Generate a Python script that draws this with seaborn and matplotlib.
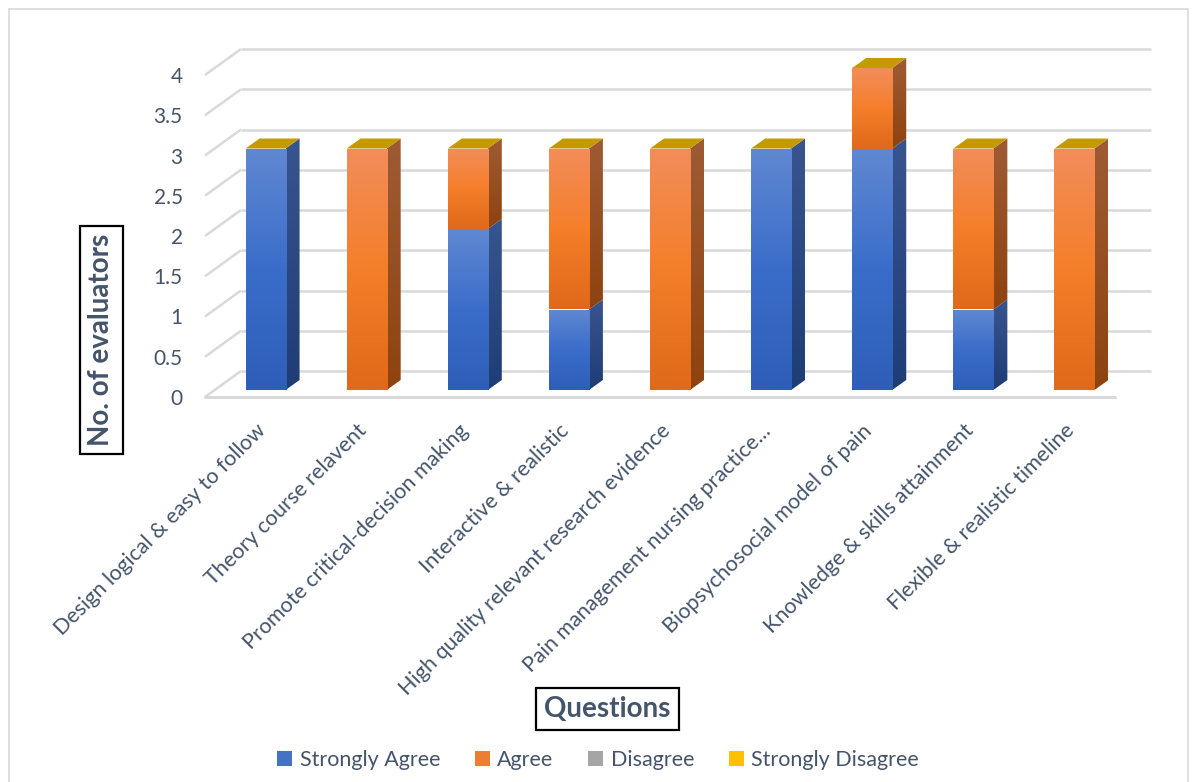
import numpy as np
import matplotlib
matplotlib.use("Agg")
import matplotlib.pyplot as plt
import seaborn as sns
from matplotlib.colors import LinearSegmentedColormap
from matplotlib.patches import Patch, Polygon

# data
questions = [
    "Design logical & easy to follow",
    "Theory course relavent",
    "Promote critical-decision making",
    "Interactive & realistic",
    "High quality relevant research evidence",
    "Pain management nursing practice...",
    "Biopsychosocial model of pain",
    "Knowledge & skills attainment",
    "Flexible & realistic timeline",
]
strongly_agree = [3, 0, 2, 1, 0, 3, 3, 1, 0]
agree = [0, 3, 1, 2, 3, 0, 1, 2, 3]
disagree = [0, 0, 0, 0, 0, 0, 0, 0, 0]
strongly_disagree = [0, 0, 0, 0, 0, 0, 0, 0, 0]
series_names = ["Strongly Agree", "Agree", "Disagree", "Strongly Disagree"]
y_ticks = [0, 0.5, 1, 1.5, 2, 2.5, 3, 3.5, 4]

# colours: legend, front gradient (bottom, mid, top), side gradient (bottom, top)
legend_colors = ["#4472c4", "#ed7d31", "#a5a5a5", "#ffc000"]
front_grad = {
    "Strongly Agree": ["#2e5eb8", "#3a6dca", "#6088d2"],
    "Agree": ["#e0691a", "#f57e2a", "#f28d5a"],
    "Disagree": ["#8a8a8a", "#a5a5a5", "#bdbdbd"],
    "Strongly Disagree": ["#d9a300", "#ffc000", "#ffd050"],
}
side_grad = {
    "Strongly Agree": ["#1e3c76", "#39558f"],
    "Agree": ["#8e430f", "#9e5b34"],
    "Disagree": ["#666666", "#7a7a7a"],
    "Strongly Disagree": ["#a07c00", "#b89000"],
}
top_color = "#c49a00"
text_color = "#44546a"
grid_color = "#d9d9d9"

W, H = 1196, 782
sns.set_theme(style="white")
plt.rcParams["font.family"] = ["Lato", "DejaVu Sans"]

fig = plt.figure(figsize=(W / 100, H / 100), dpi=100)
fig.patch.set_facecolor("white")

n = len(questions)
xlim = (-0.5, n - 0.5)
ymax = 4
px_x = 910 / (xlim[1] - xlim[0])
px_y = 322 / ymax

# front plane axes (ticks, floor, walls)
ax = fig.add_axes([205 / W, (H - 397) / H, 910 / W, 322 / H])
# bar axes (bars sit slightly into the depth); extra headroom so tops are not clipped
bar_top = 4.6
bax = fig.add_axes([215 / W, (H - 390) / H, 910 / W, px_y * bar_top / H])
bax.patch.set_alpha(0)

# wall depth and bar depth in data units
wall_dx, wall_dy = 36 / px_x, 26 / px_y
bar_dx, bar_dy = 14 / px_x, 10 / px_y

# back wall gridlines + left wall diagonals
for v in y_ticks:
    ax.plot([xlim[0], xlim[0] + wall_dx], [v, v + wall_dy], color=grid_color,
            lw=1.8, clip_on=False, zorder=1, solid_capstyle="butt")
    ax.plot([xlim[0] + wall_dx, xlim[1] + wall_dx], [v + wall_dy, v + wall_dy],
            color=grid_color, lw=1.8, clip_on=False, zorder=1, solid_capstyle="butt")
ax.plot([xlim[0], xlim[1]], [0, 0], color=grid_color, lw=2.2, clip_on=False, zorder=1)

# stacked bars
stack = [strongly_agree, agree, disagree, strongly_disagree]
bottom = np.zeros(n)
bar_groups = []
for name, vals in zip(series_names, stack):
    before = len(bax.patches)
    sns.barplot(x=questions, y=vals, bottom=bottom, color=legend_colors[0],
                width=0.396, ax=bax, order=questions)
    bar_groups.append((name, bax.patches[before:]))
    bottom = bottom + np.array(vals)


def shade(axis, clip, extent, colors, z):
    x0, x1, y0, y1 = extent
    if y1 <= y0:
        return
    cmap = LinearSegmentedColormap.from_list("g", colors)
    grad = np.linspace(0, 1, 128).reshape(-1, 1)
    im = axis.imshow(grad, cmap=cmap, extent=extent, origin="lower",
                     aspect="auto", zorder=z, interpolation="bilinear")
    im.set_clip_path(clip)


for name, patches in bar_groups:
    for p in patches:
        p.set_facecolor("none")
        p.set_edgecolor("none")
        x0, y0 = p.get_x(), p.get_y()
        w, h = p.get_width(), p.get_height()
        if h > 0:
            shade(bax, p, (x0, x0 + w, y0, y0 + h), front_grad[name], 3)
            side = Polygon([(x0 + w, y0), (x0 + w + bar_dx, y0 + bar_dy),
                            (x0 + w + bar_dx, y0 + h + bar_dy), (x0 + w, y0 + h)],
                           closed=True, facecolor="none", edgecolor="none")
            bax.add_patch(side)
            shade(bax, side, (x0 + w, x0 + w + bar_dx, y0, y0 + h + bar_dy),
                  side_grad[name], 2)

# top faces come from the zero-height "Strongly Disagree" segments
for p in bar_groups[-1][1]:
    x0, y0, w = p.get_x(), p.get_y(), p.get_width()
    bax.add_patch(Polygon([(x0, y0), (x0 + w, y0), (x0 + w + bar_dx, y0 + bar_dy),
                           (x0 + bar_dx, y0 + bar_dy)], closed=True,
                          facecolor=top_color, edgecolor="none", zorder=4))

ax.set_xlim(*xlim)
ax.set_ylim(0, ymax)
bax.set_xlim(*xlim)
bax.set_ylim(0, bar_top)
for a in (ax, bax):
    for s in a.spines.values():
        s.set_visible(False)

bax.set_xticks([])
bax.set_yticks([])
bax.set_xlabel("")
bax.set_ylabel("")

ax.patch.set_alpha(0)
ax.set_yticks(y_ticks)
ax.set_yticklabels([f"{t:g}" for t in y_ticks])
ax.set_xticks(range(n))
ax.set_xticklabels(questions, rotation=45, ha="right", va="top",
                   rotation_mode="anchor")
ax.tick_params(axis="y", length=0, pad=16, labelsize=15, labelcolor=text_color)
ax.tick_params(axis="x", length=0, pad=17, labelsize=15.5, labelcolor=text_color)

box = dict(boxstyle="square,pad=0.3", fc="white", ec="black", lw=1.6)
ax.set_ylabel("No. of evaluators", fontsize=20, fontweight="bold", color=text_color,
              bbox=box, va="center")
ax.yaxis.set_label_coords(-0.114, 0.177)
ax.set_xlabel("Questions", fontsize=20, fontweight="bold", color=text_color,
              bbox=box, va="center")
ax.xaxis.set_label_coords(0.442, -0.969)

handles = [Patch(facecolor=c, edgecolor="none") for c in legend_colors]
leg = fig.legend(handles, series_names, loc="center", ncol=4,
                 bbox_to_anchor=(598 / W, 1 - 760 / H), frameon=False,
                 fontsize=15.5, handlelength=0.7, handleheight=0.7,
                 handletextpad=0.35, columnspacing=1.6)
for t in leg.get_texts():
    t.set_color(text_color)

# chart area border
for xs, ys in [((9, 9), (9, H)), ((9, W - 8), (9, 9)), ((W - 8, W - 8), (9, H))]:
    fig.add_artist(plt.Line2D([x / W for x in xs], [1 - y / H for y in ys],
                              color="#d9d9d9", lw=1.2))

fig.savefig("out.png", dpi=100)
